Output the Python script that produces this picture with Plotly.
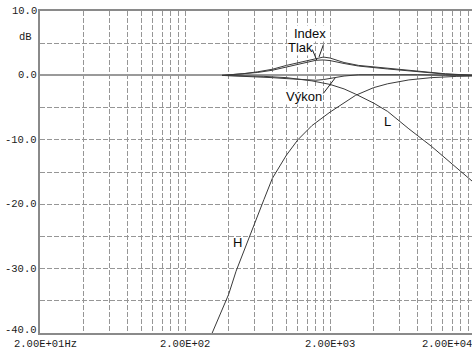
import math
import plotly.graph_objects as go

# ---------------- data ----------------
freq_h = [300, 350, 400, 450, 500, 600, 700, 800, 1000, 1200, 1500, 2000,
          2500, 3000, 4000, 5000, 7000, 10000, 15000, 20000]
h_db = [-40.6, -37.1, -34.0, -30.4, -27.7, -23.1, -19.3, -16.0, -12.4, -10.0,
        -7.8, -5.7, -4.3, -3.1, -1.9, -1.3, -0.7, -0.35, -0.15, -0.1]

freq_l = [360, 500, 700, 1000, 1200, 1500, 2000, 2500, 3000, 4000, 5000,
          7000, 10000, 15000, 20000]
l_db = [0.0, -0.05, -0.15, -0.35, -0.55, -0.85, -1.4, -2.1, -2.9, -4.3, -5.6,
        -8.3, -11.0, -14.4, -16.8]

freq_c = [360, 500, 630, 800, 1000, 1250, 1400, 1600, 1800, 2000, 2500, 3150,
          5000, 8000, 12500, 20000]
index_db = [0.0, 0.25, 0.55, 0.95, 1.55, 2.05, 2.35, 2.7, 2.85, 2.7, 2.0, 1.55,
            1.1, 0.65, 0.25, 0.0]
tlak_db = [0.0, 0.2, 0.45, 0.8, 1.3, 1.8, 2.1, 2.35, 2.4, 2.3, 1.85, 1.45,
           1.0, 0.6, 0.2, 0.0]
vykon_db = [0.0, -0.1, -0.2, -0.35, -0.5, -0.65, -0.72, -0.75, -0.65, -0.5,
            -0.1, 0.1, 0.15, 0.1, 0.03, 0.0]

x_grid = [20 * k for k in range(2, 11)] + [200 * k for k in range(2, 11)] + \
         [2000 * k for k in range(2, 11)]
x_label_vals = [20, 200, 2000, 20000]
x_label_text = ["2.00E+01Hz", "2.00E+02", "2.00E+03", "2.00E+04"]
y_grid = [-40, -35, -30, -25, -20, -15, -10, -5, 0, 5, 10]
y_label_vals = [10, 0, -10, -20, -30, -40]
y_label_text = ["10.0", "0.0", "-10.0", "-20.0", "-30.0", "-40.0"]

# ---------------- figure ----------------
W, H = 472, 351
ML, MT, MB = 40, 11, 18
plot_w = W - ML
decade_px = 145.0
x_lo = math.log10(20)
x_hi = x_lo + plot_w / decade_px

curve_col = "#3a3a3a"
grid_col = "#969696"
mono = "Liberation Mono, DejaVu Sans Mono, monospace"
sans = "Liberation Sans, Arial, sans-serif"
txt_col = "#1a1a1a"

fig = go.Figure()
for fx, fy in [(freq_c, index_db), (freq_c, tlak_db), (freq_c, vykon_db),
               (freq_l, l_db), (freq_h, h_db)]:
    fig.add_trace(go.Scatter(x=fx, y=fy, mode="lines",
                             line=dict(color=curve_col, width=1),
                             hoverinfo="skip", showlegend=False))

fig.update_layout(
    width=W, height=H,
    margin=dict(l=ML, r=0, t=MT, b=MB, pad=0, autoexpand=False),
    plot_bgcolor="white", paper_bgcolor="white",
    showlegend=False,
)
fig.update_xaxes(
    type="log", range=[x_lo, x_hi], automargin=False,
    tickvals=x_grid, showticklabels=False, ticks="",
    showgrid=True, gridcolor=grid_col, gridwidth=1, griddash="5px,2px",
    showline=True, linecolor="#8a8a8a", linewidth=2, mirror=True,
    zeroline=False,
)
fig.update_yaxes(
    range=[-40, 10], automargin=False,
    tickvals=y_grid, showticklabels=False, ticks="",
    showgrid=True, gridcolor=grid_col, gridwidth=1, griddash="5px,2px",
    showline=True, linecolor="#8a8a8a", linewidth=2, mirror=False,
    zeroline=True, zerolinecolor="#9a9a9a", zerolinewidth=2,
)

ann = []
# y tick labels
for v, t in zip(y_label_vals, y_label_text):
    ann.append(dict(x=0, xref="paper", y=v, yref="y", text=t, showarrow=False,
                    xanchor="right", yanchor="middle", xshift=-1,
                    yshift=3 if v == -40 else 0,
                    font=dict(family=mono, size=10.5, color=txt_col)))
ann.append(dict(x=0, xref="paper", y=6, yref="y", text="dB", showarrow=False,
                xanchor="right", yanchor="middle", xshift=-6,
                font=dict(family=mono, size=10.5, color=txt_col)))
# x tick labels
for v, t in zip(x_label_vals, x_label_text):
    if t.endswith("Hz"):
        a = dict(x=math.log10(v), xanchor="left", xshift=-28)
    elif v == 20000:
        a = dict(x=1, xref="paper", xanchor="right", xshift=2)
    else:
        a = dict(x=math.log10(v), xanchor="center", xshift=0)
    a.update(dict(y=0, yref="paper", yanchor="top", yshift=-3, text=t,
                  showarrow=False,
                  font=dict(family=mono, size=10.5, color=txt_col)))
    a.setdefault("xref", "x")
    ann.append(a)

# curve labels
lab_font = dict(family=sans, size=13, color="#0a0a0a")
def label(text, f, db, **kw):
    d = dict(x=math.log10(f), xref="x", y=db, yref="y", text=text,
             showarrow=False, font=lab_font, bgcolor="white", borderpad=0)
    d.update(kw)
    return d

ann.append(label("Index", 1450, 6.45))
ann.append(label("Tlak", 1260, 4.35))
ann.append(label("Výkon", 1320, -3.2))
ann.append(label("L", 4950, -7.2, bgcolor="rgba(0,0,0,0)"))
ann.append(label("H", 460, -26.0, bgcolor="rgba(0,0,0,0)"))

# pointer lines
def pointer(f, db, ax, ay):
    return dict(x=math.log10(f), xref="x", y=db, yref="y", text="",
                showarrow=True, arrowhead=0, arrowwidth=1, arrowcolor="#222",
                ax=ax, ay=ay, standoff=0, startstandoff=0)

ann.append(pointer(1680, 2.86, 5, -14))
ann.append(pointer(1620, 2.38, -5, -12))
ann.append(pointer(2170, -0.4, -13, 17))

fig.update_layout(annotations=ann)
fig.write_html(
    "out.html",
    config={"displayModeBar": False, "staticPlot": True},
    post_script="document.body.style.margin='0';"
                "document.body.style.overflow='hidden';",
)
